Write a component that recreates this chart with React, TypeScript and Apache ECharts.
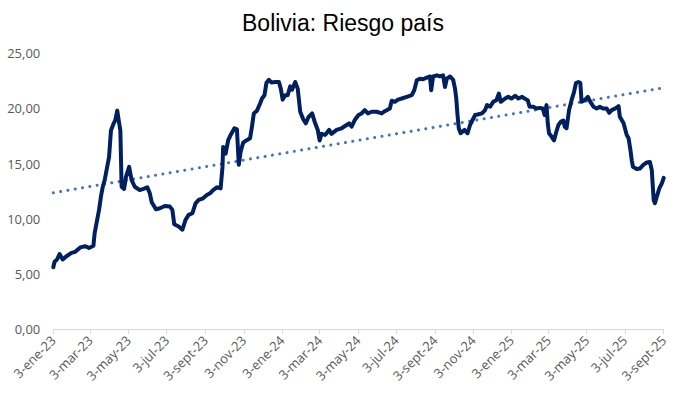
import React, { useEffect, useRef } from "react";
import * as echarts from "echarts";

const TITLE = "Bolivia: Riesgo país";
const START_DATE = "2023-01-03";
const END_DATE = "2025-09-03";

// days elapsed since START_DATE for each observation
const days = [0,2,6,10,15,21,29,35,43,51,57,64,66,69,73,76,79,82,85,89,92,96,99,102,105,107,109,113,116,121,125,130,138,146,150,154,157,164,170,178,186,190,193,200,206,211,216,222,227,232,239,245,250,255,261,267,270,271,275,279,283,289,293,296,299,303,308,314,317,320,325,330,333,337,340,344,348,354,360,363,366,370,374,378,381,386,390,394,399,403,407,413,417,422,425,428,434,440,444,452,460,468,472,476,481,487,492,497,502,508,516,524,529,537,540,545,550,556,564,572,576,580,585,590,596,601,603,606,612,617,622,625,628,633,638,641,643,645,647,650,656,661,665,669,673,677,684,689,692,697,702,707,711,714,721,726,731,737,742,748,752,757,760,766,771,776,781,784,787,789,791,795,799,802,806,810,814,816,819,823,827,831,834,838,841,843,848,853,857,862,867,872,877,883,887,891,897,902,904,910,915,918,921,923,925,931,936,941,947,952,955,958,960,963,967,971,974];
const riesgo = [5.6,6.1,6.3,6.8,6.3,6.6,6.9,7.0,7.4,7.5,7.35,7.55,8.7,9.6,10.8,12.0,12.9,13.5,14.4,15.6,18.0,18.6,18.95,19.8,18.7,18.0,12.9,12.7,13.8,14.7,13.5,12.9,12.6,12.75,12.85,12.3,11.5,10.85,10.95,11.15,11.1,10.8,9.5,9.3,9.0,9.9,10.35,10.5,11.4,11.7,11.85,12.15,12.3,12.6,12.85,12.75,14.7,16.5,15.9,17.1,17.6,18.2,18.1,14.9,16.1,16.9,17.1,17.3,18.35,19.55,19.8,20.45,20.9,21.2,22.3,22.6,22.35,22.4,22.4,21.8,20.8,21.2,21.2,22.0,21.7,22.4,21.8,19.7,19.0,18.65,19.2,19.55,18.8,18.05,17.1,17.7,17.6,18.05,17.7,18.05,18.2,18.5,18.65,18.35,18.95,19.4,19.55,19.85,19.55,19.7,19.7,19.55,19.75,20.0,20.7,20.6,20.8,20.9,21.05,21.2,21.65,22.55,22.7,22.65,22.8,22.9,21.65,22.9,23.0,22.9,23.0,21.95,22.7,22.9,22.6,21.8,20.9,19.4,18.2,17.75,18.05,17.75,18.5,18.95,19.4,19.45,19.55,19.85,20.3,20.15,20.6,20.75,21.35,20.6,20.9,21.05,20.9,21.15,20.9,21.05,20.9,20.75,20.15,20.15,20.0,20.05,20.0,19.4,20.3,18.65,17.75,17.45,17.1,17.75,18.5,18.8,18.9,18.35,18.2,19.85,20.75,21.5,22.3,22.4,22.3,20.6,20.75,21.05,20.6,20.15,20.0,20.15,20.0,20.0,19.6,19.85,20.0,20.2,19.25,18.65,17.6,17.3,16.2,15.3,14.7,14.5,14.55,14.85,15.1,15.15,14.4,11.7,11.4,12.0,12.75,13.2,13.7];

const trendDays = [0, 974];
const trendValues = [12.35, 21.87];

const tickDates = ["2023-01-03","2023-03-03","2023-05-03","2023-07-03","2023-09-03","2023-11-03","2024-01-03","2024-03-03","2024-05-03","2024-07-03","2024-09-03","2024-11-03","2025-01-03","2025-03-03","2025-05-03","2025-07-03","2025-09-03"];
const tickLabels = ["3-ene-23","3-mar-23","3-may-23","3-jul-23","3-sept-23","3-nov-23","3-ene-24","3-mar-24","3-may-24","3-jul-24","3-sept-24","3-nov-24","3-ene-25","3-mar-25","3-may-25","3-jul-25","3-sept-25"];

const yTicks = [0, 5, 10, 15, 20, 25];

const DAY_MS = 86400000;
function parseUTC(s: string): number {
  const [y, m, d] = s.split("-").map(Number);
  return Date.UTC(y, m - 1, d);
}
// x position in days since START_DATE
function dateToDay(s: string): number {
  return Math.round((parseUTC(s) - parseUTC(START_DATE)) / DAY_MS);
}

export default function App() {
  const ref = useRef<HTMLDivElement>(null);
  useEffect(() => {
    document.body.style.margin = "0";
    if (!ref.current) return;
    const chart = echarts.init(ref.current, undefined, { renderer: "svg" });
    const tickDays = tickDates.map(dateToDay);
    const labelFor = (v: number) => {
      const i = tickDays.findIndex((t) => Math.abs(t - v) < 0.5);
      return i >= 0 ? tickLabels[i] : "";
    };
    chart.setOption({
      animation: false,
      backgroundColor: "#ffffff",
      title: {
        text: TITLE,
        left: "center",
        top: 6,
        textStyle: {
          fontFamily: "Liberation Sans",
          fontSize: 23,
          fontWeight: "normal",
          color: "#000000",
        },
      },
      grid: {
        left: 53.3,
        right: 22.3,
        top: 53.3,
        bottom: 67,
        containLabel: false,
        outerBoundsMode: "none",
      },
      xAxis: {
        type: "value",
        min: dateToDay(START_DATE),
        max: dateToDay(END_DATE),
        axisLine: { show: true, lineStyle: { color: "#d9d9d9", width: 1 } },
        axisTick: {
          show: true,
          length: 5,
          lineStyle: { color: "#d9d9d9" },
          customValues: tickDays,
        },
        axisLabel: {
          rotate: 45,
          margin: 9,
          color: "#595959",
          fontFamily: "Open Sans",
          fontSize: 13,
          customValues: tickDays,
          formatter: (v: number) => labelFor(v),
          showMinLabel: true,
          showMaxLabel: true,
          hideOverlap: false,
        },
        splitLine: { show: false },
      },
      yAxis: {
        type: "value",
        min: yTicks[0],
        max: yTicks[yTicks.length - 1],
        interval: 5,
        axisLine: { show: false },
        axisTick: { show: false },
        splitLine: { show: false },
        axisLabel: {
          margin: 13,
          color: "#595959",
          fontFamily: "Open Sans",
          fontSize: 13,
          formatter: (v: number) => v.toFixed(2).replace(".", ","),
        },
      },
      series: [
        {
          type: "line",
          name: "Riesgo país",
          data: days.map((d, i) => [d, riesgo[i]]),
          showSymbol: false,
          symbol: "none",
          lineStyle: { color: "#002060", width: 4, join: "round", cap: "round" },
          z: 3,
        },
        {
          type: "line",
          name: "Tendencia",
          data: trendDays.map((d, i) => [d, trendValues[i]]),
          showSymbol: false,
          symbol: "none",
          lineStyle: { color: "#4472c4", width: 3, type: [0.01, 7.4], cap: "round" },
          z: 2,
        },
      ],
    });
    return () => chart.dispose();
  }, []);
  return <div ref={ref} style={{ width: 686, height: 396 }} />;
}
